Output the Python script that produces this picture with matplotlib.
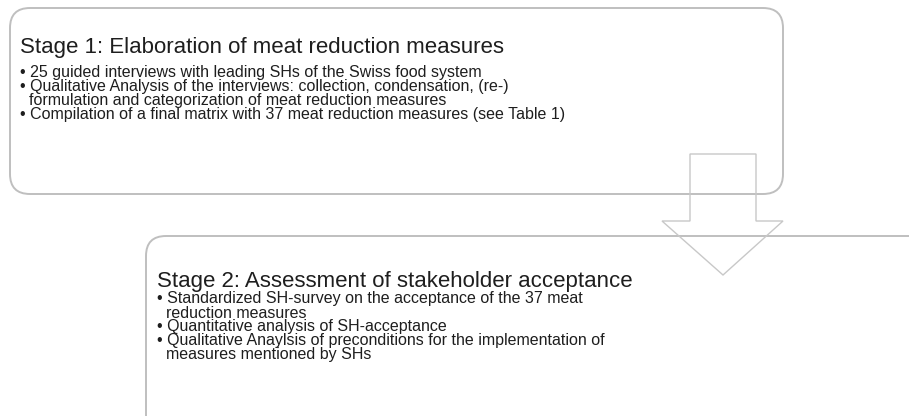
import matplotlib
matplotlib.use("Agg")
import matplotlib.pyplot as plt
from matplotlib.patches import FancyBboxPatch, Polygon

stage1_title = "Stage 1: Elaboration of meat reduction measures"
stage1_bullets = [
    "• 25 guided interviews with leading SHs of the Swiss food system",
    "• Qualitative Analysis of the interviews: collection, condensation, (re-)",
    "  formulation and categorization of meat reduction measures",
    "• Compilation of a final matrix with 37 meat reduction measures (see Table 1)",
]
stage2_title = "Stage 2: Assessment of stakeholder acceptance"
stage2_bullets = [
    "• Standardized SH-survey on the acceptance of the 37 meat",
    "  reduction measures",
    "• Quantitative analysis of SH-acceptance",
    "• Qualitative Anaylsis of preconditions for the implementation of",
    "  measures mentioned by SHs",
]

W, H = 909, 416
fig = plt.figure(figsize=(W / 100, H / 100), dpi=100)
ax = fig.add_axes([0, 0, 1, 1])
ax.set_xlim(0, W)
ax.set_ylim(H, 0)
ax.axis("off")

edge = "#bfbfbf"
box1 = FancyBboxPatch((10, 8), 773, 186, boxstyle="round,pad=0,rounding_size=20",
                      fc="white", ec=edge, lw=1.4)
ax.add_patch(box1)
box2 = FancyBboxPatch((146, 236), 800, 220, boxstyle="round,pad=0,rounding_size=20",
                      fc="white", ec=edge, lw=1.4)
ax.add_patch(box2)

arrow = Polygon([(690, 154), (756, 154), (756, 221), (783, 221), (723, 275),
                 (662, 221), (690, 221)], closed=True, fc="none", ec="#c8c8c8", lw=1.0)
ax.add_patch(arrow)

font = "Liberation Sans"
tc = "#1e1e1e"
ax.text(20, 47, stage1_title, fontsize=16.0, family=font, color=tc, va="center", ha="left")
y0, dy = 72, 14
for i, s in enumerate(stage1_bullets):
    ax.text(20, y0 + i * dy, s, fontsize=11.5, family=font, color=tc, va="center", ha="left")

ax.text(157, 282, stage2_title, fontsize=16.0, family=font, color=tc, va="center", ha="left")
y0, dy = 299, 14
for i, s in enumerate(stage2_bullets):
    ax.text(157, y0 + i * dy, s, fontsize=11.5, family=font, color=tc, va="center", ha="left")

fig.savefig("out.png", dpi=100, facecolor="white")
